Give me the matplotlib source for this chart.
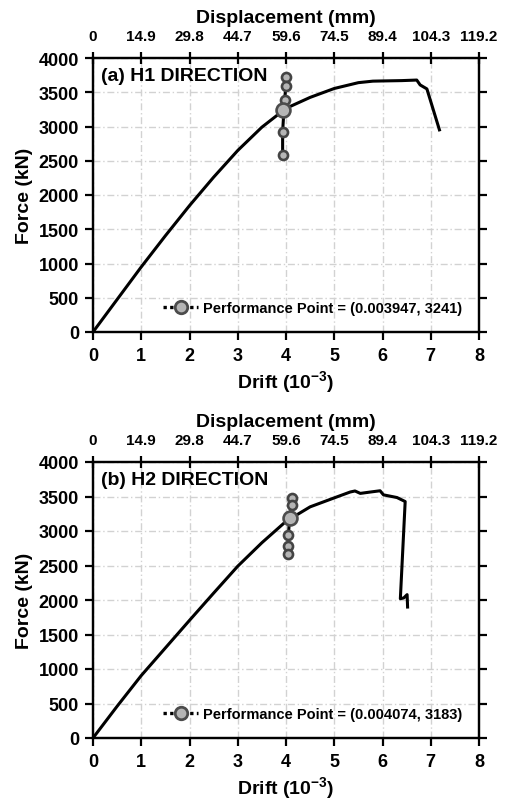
import matplotlib
matplotlib.use("Agg")
import matplotlib.pyplot as plt
import numpy as np

plt.rcParams['font.family'] = ['Liberation Sans', 'DejaVu Sans']
plt.rcParams['font.weight'] = 'bold'
plt.rcParams['mathtext.fontset'] = 'custom'
plt.rcParams['mathtext.rm'] = 'Liberation Sans:bold'
plt.rcParams['mathtext.it'] = 'Liberation Sans:bold'
plt.rcParams['mathtext.bf'] = 'Liberation Sans:bold'
plt.rcParams['mathtext.default'] = 'bf'

# ---------------- data ----------------
drift_ticks = [0, 1, 2, 3, 4, 5, 6, 7, 8]
disp_labels = ['0', '14.9', '29.8', '44.7', '59.6', '74.5', '89.4', '104.3', '119.2']
force_ticks = [0, 500, 1000, 1500, 2000, 2500, 3000, 3500, 4000]

h1_drift = [0, 0.5, 1.0, 1.5, 2.0, 2.5, 3.0, 3.5, 4.0, 4.5, 5.0, 5.5, 5.8, 6.0, 6.4,
            6.71, 6.78, 6.92, 7.18]
h1_force = [0, 475, 950, 1405, 1845, 2260, 2650, 2990, 3265, 3425, 3555, 3640, 3662, 3665,
            3670, 3678, 3607, 3549, 2951]
h1_pp_drift = [4.0, 4.0, 3.97, 3.93, 3.93]
h1_pp_force = [3728, 3592, 3388, 2922, 2587]
h1_perf = (3.947, 3241)

h2_drift = [0, 0.5, 1.0, 1.5, 2.0, 2.5, 3.0, 3.5, 4.0, 4.5, 5.0, 5.33, 5.43, 5.54,
            5.75, 5.95, 6.02, 6.30, 6.47, 6.37, 6.44, 6.51, 6.52]
h2_force = [0, 460, 905, 1305, 1705, 2100, 2490, 2830, 3140, 3350, 3480, 3565, 3580, 3545,
            3565, 3583, 3524, 3485, 3427, 2019, 2030, 2078, 1898]
h2_pp_drift = [4.12, 4.12, 4.05, 4.05, 4.05]
h2_pp_force = [3476, 3379, 2942, 2786, 2660]
h2_perf = (4.074, 3183)

panels = [
    ("(a) H1 DIRECTION", h1_drift, h1_force, h1_pp_drift, h1_pp_force, h1_perf),
    ("(b) H2 DIRECTION", h2_drift, h2_force, h2_pp_drift, h2_pp_force, h2_perf),
]

fig = plt.figure(figsize=(5.08, 8.03), dpi=100)
W, H = 508, 803
boxes = [(93, 479, 59, 333), (93, 479, 463, 739)]

for (title, dx, fy, pdx, pfy, perf), (l, r, t, b) in zip(panels, boxes):
    ax = fig.add_axes([l / W, 1 - b / H, (r - l) / W, (b - t) / H])
    ax.set_xlim(0, 8)
    ax.set_ylim(0, 4000)
    ax.grid(True, color='#d2d2d2', linestyle=(0, (5, 2, 1, 2)), linewidth=1.0)
    ax.set_axisbelow(True)
    ax.plot(dx, fy, color='black', linewidth=2.2, solid_joinstyle='round', zorder=3)
    # performance point marker column
    col_d = pdx[:2] + [perf[0]] + pdx[2:]
    col_f = pfy[:2] + [perf[1]] + pfy[2:]
    ax.plot(col_d, col_f, color='black', linewidth=2.2, zorder=4)
    ax.plot(pdx, pfy, linestyle='none', marker='o', markersize=6.5,
            markerfacecolor='#b5b5b5', markeredgecolor='#444444', markeredgewidth=1.9, zorder=5)
    ax.plot([perf[0]], [perf[1]], linestyle='none', marker='o', markersize=10,
            markerfacecolor='#b5b5b5', markeredgecolor='#4c4c4c', markeredgewidth=1.9, zorder=6)
    # legend handle
    h, = ax.plot([], [], linestyle=(0, (1, 1)), color='black', linewidth=2.4, marker='o',
                 markersize=9, markerfacecolor='#b5b5b5', markeredgecolor='#4c4c4c',
                 markeredgewidth=2.0)
    ax.legend([h], [f"Performance Point = ({perf[0]/1000:.6f}, {perf[1]})"],
              loc='center left', bbox_to_anchor=((163 - l) / (r - l), 0.086),
              frameon=False, borderpad=0, borderaxespad=0, handlelength=2.4,
              handletextpad=0.35, prop={'size': 10.5, 'weight': 'bold'})

    ax.text(0.02, 0.935, title, transform=ax.transAxes, fontsize=14,
            fontweight='bold', va='center', ha='left')

    ax.set_xticks(drift_ticks)
    ax.set_yticks(force_ticks)
    ax.set_xticklabels([str(v) for v in drift_ticks])
    ax.set_yticklabels([str(v) for v in force_ticks])
    ax.tick_params(axis='both', labelsize=13, width=1.6, length=6, direction='out')
    ax.tick_params(axis='x', pad=5)
    ax.tick_params(axis='y', right=True, which='both', pad=4)
    ax.set_xlabel(r"Drift (10$^{-3}$)", fontsize=14, fontweight='bold', labelpad=3)
    ax.set_ylabel("Force (kN)", fontsize=14, fontweight='bold', labelpad=4)
    for s in ax.spines.values():
        s.set_linewidth(1.6)

    ax2 = ax.twiny()
    ax2.set_xlim(0, 8)
    ax2.set_xticks(drift_ticks)
    ax2.set_xticklabels(disp_labels)
    ax2.tick_params(axis='x', labelsize=11, width=1.6, length=9, direction='inout', pad=6)
    ax2.set_xlabel("Displacement (mm)", fontsize=14, fontweight='bold', labelpad=5)
    for s in ax2.spines.values():
        s.set_linewidth(1.6)

fig.savefig("out.png", dpi=100)
